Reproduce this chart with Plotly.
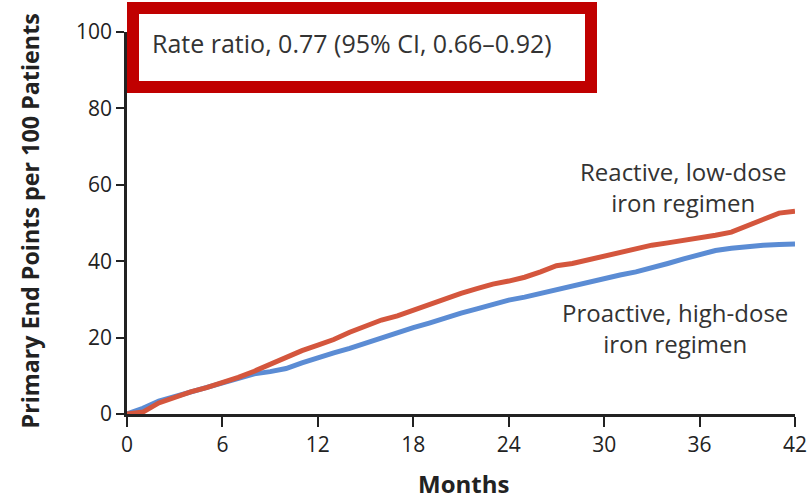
import plotly.graph_objects as go

months = list(range(0, 43))
reactive = [0, 0.5, 2.9, 4.4, 5.8, 6.9, 8.2, 9.6, 11.2, 13.0, 15.0, 16.6, 18.0, 19.5, 21.4,
            23.0, 24.6, 25.7, 27.2, 28.8, 30.2, 31.6, 32.8, 34.0, 34.8, 35.8, 37.2, 38.8,
            39.4, 40.4, 41.4, 42.3, 43.2, 44.2, 44.8, 45.4, 46.0, 46.8, 47.6, 49.2, 51.0,
            52.6, 53.1]
proactive = [0, 1.5, 3.4, 4.6, 5.7, 6.9, 8.2, 9.4, 10.5, 11.1, 11.9, 13.4, 14.8, 16.0, 17.2,
             18.6, 20.0, 21.2, 22.6, 23.8, 25.2, 26.4, 27.5, 28.8, 29.8, 30.6, 31.6, 32.4,
             33.4, 34.4, 35.4, 36.4, 37.2, 38.2, 39.4, 40.6, 41.6, 42.8, 43.4, 43.9, 44.2,
             44.4, 44.5]
x_ticks = [0, 6, 12, 18, 24, 30, 36, 42]
y_ticks = [0, 20, 40, 60, 80, 100]

RED = "#D4563D"
BLUE = "#5B8CD4"
TXT = "#333333"
FONT = "Open Sans"

fig = go.Figure()
fig.add_trace(go.Scatter(x=months, y=proactive, mode="lines",
                         line=dict(color=BLUE, width=5), showlegend=False))
fig.add_trace(go.Scatter(x=months, y=reactive, mode="lines",
                         line=dict(color=RED, width=5), showlegend=False))

fig.update_layout(
    width=812, height=502,
    margin=dict(l=127, r=17, t=32, b=88),
    plot_bgcolor="white", paper_bgcolor="white",
    font=dict(family=FONT, color=TXT),
    xaxis=dict(range=[0, 42], tickvals=x_ticks, ticks="outside", ticklen=10, tickwidth=2,
               tickcolor="#222", showline=True, linecolor="#222", linewidth=2.5,
               showgrid=False, zeroline=False, automargin=False,
               tickfont=dict(family=FONT, size=21, color="#222")),
    yaxis=dict(range=[0, 100], tickvals=y_ticks, ticks="outside", ticklen=8, tickwidth=2,
               tickcolor="#222", showline=True, linecolor="#222", linewidth=2.5,
               showgrid=False, zeroline=False, automargin=False,
               tickfont=dict(family=FONT, size=21, color="#222")),
)

fig.add_shape(type="rect", xref="paper", yref="paper",
              x0=(133 - 127) / 668, x1=(591 - 127) / 668,
              y0=(414 - 87) / 382, y1=(414 - 8) / 382,
              line=dict(color="#C00000", width=12), fillcolor="white", layer="above")

ann = []
ann.append(dict(text="Rate ratio, 0.77 (95% CI, 0.66\u20130.92)", xref="paper", yref="paper",
                x=(150 - 127) / 668, y=(414 - 43) / 382, xanchor="left", yanchor="middle",
                showarrow=False, font=dict(family=FONT, size=25, color=TXT)))
ann.append(dict(text="<b>Primary End Points per 100 Patients</b>", xref="paper", yref="paper",
                x=(29 - 127) / 668, y=(414 - 221.5) / 382, xanchor="center", yanchor="middle",
                textangle=-90, showarrow=False, font=dict(family=FONT, size=23.3, color="#222")))
ann.append(dict(text="<b>Months</b>", xref="paper", yref="paper",
                x=(463 - 127) / 668, y=(414 - 502) / 382, xanchor="center", yanchor="bottom",
                showarrow=False, font=dict(family=FONT, size=24, color="#222")))
labels = [("Reactive, low-dose<br>iron regimen", 35.0, 59.3),
          ("Proactive, high-dose<br>iron regimen", 34.45, 22.4)]
for t, x, y in labels:
    ann.append(dict(text=t, x=x, y=y, xref="x", yref="y", xanchor="center", yanchor="middle",
                    align="center", showarrow=False, font=dict(family=FONT, size=24, color=TXT)))
fig.update_layout(annotations=ann)

fig.write_html("out.html", config={"displayModeBar": False},
               post_script="document.body.style.margin='0px';")
